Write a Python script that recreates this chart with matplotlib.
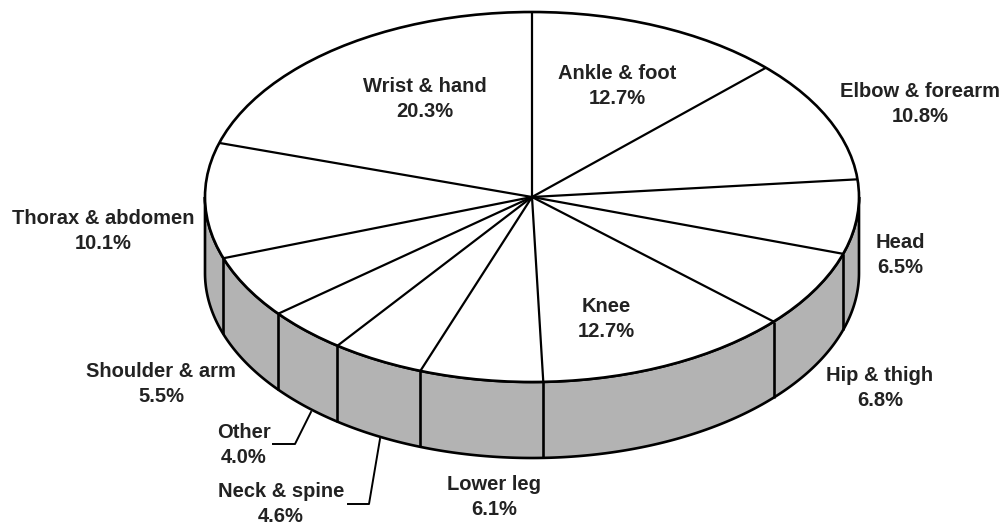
import numpy as np
import matplotlib
matplotlib.use("Agg")
import matplotlib.pyplot as plt
from matplotlib.patches import Polygon, Ellipse

plt.rcParams['font.family'] = ['Liberation Sans', 'DejaVu Sans']

regions = ["Ankle & foot", "Elbow & forearm", "Head", "Hip & thigh", "Knee", "Lower leg",
           "Neck & spine", "Other", "Shoulder & arm", "Thorax & abdomen", "Wrist & hand"]
shares = [12.7, 10.8, 6.5, 6.8, 12.7, 6.1, 4.6, 4.0, 5.5, 10.1, 20.3]

W, H = 1003, 527
CX, CY, RX, RY, DEPTH = 532, 197, 327, 185, 76
LW = 1.6
GREY = "#b3b3b3"

label_xy = {"Ankle & foot": (617, 86), "Elbow & forearm": (920, 104), "Head": (900, 255),
            "Hip & thigh": (880, 388), "Knee": (606, 319), "Lower leg": (494, 497),
            "Neck & spine": (281, 504), "Other": (244, 445), "Shoulder & arm": (161, 384),
            "Thorax & abdomen": (103, 231), "Wrist & hand": (425, 99)}

fig = plt.figure(figsize=(W / 100, H / 100), dpi=100)
ax = fig.add_axes([0, 0, 1, 1])
ax.set_xlim(0, W)
ax.set_ylim(H, 0)
ax.axis("off")


def rim(theta):
    return CX + RX * np.sin(theta), CY - RY * np.cos(theta)


# side wall (front half of the ellipse, extruded downward)
t = np.linspace(np.pi / 2, 3 * np.pi / 2, 300)
x, y = rim(t)
wall = np.r_[np.c_[x, y], np.c_[x[::-1], y[::-1] + DEPTH]]
ax.add_patch(Polygon(wall, closed=True, facecolor=GREY, edgecolor="black", lw=1.9, zorder=1))

# top face
ax.add_patch(Ellipse((CX, CY), 2 * RX, 2 * RY, facecolor="white", edgecolor="black", lw=1.9, zorder=2))

# slice boundaries
edges = np.cumsum([0] + shares[:-1]) / sum(shares) * 2 * np.pi
for th in edges:
    ex, ey = rim(th)
    ax.plot([CX, ex], [CY, ey], color="black", lw=LW, zorder=3, solid_capstyle="butt")
    if np.pi / 2 < th < 3 * np.pi / 2:
        ax.plot([ex, ex], [ey, ey + DEPTH], color="black", lw=1.9, zorder=3, solid_capstyle="butt")

# labels
for name, share in zip(regions, shares):
    lx, ly = label_xy[name]
    ax.text(lx, ly, f"{name}\n{share}%", ha="center", va="center", fontsize=14.5,
            fontweight="bold", color="#222222", linespacing=1.38, zorder=4)

# leader lines
ax.plot([273, 295, 311], [444, 444, 412], color="black", lw=1.4, zorder=4)
ax.plot([348, 369, 380], [504, 504, 439], color="black", lw=1.4, zorder=4)

fig.savefig("out.png", dpi=100)
